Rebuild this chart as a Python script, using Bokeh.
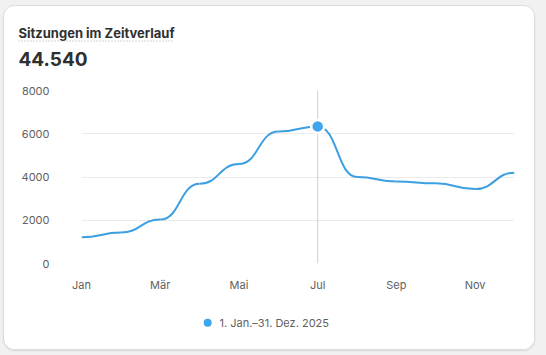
import numpy as np
from bokeh.plotting import figure
from bokeh.layouts import column
from bokeh.models import Range1d, FixedTicker, Span
from bokeh.core.properties import value
from bokeh.embed import file_html
from bokeh.resources import INLINE

# ---- data ----
months = ["Jan", "Feb", "Mär", "Apr", "Mai", "Jun", "Jul", "Aug", "Sep", "Okt", "Nov", "Dez"]
sessions = [1210, 1430, 2030, 3690, 4600, 6100, 6340, 4000, 3790, 3710, 3440, 4200]
tick_months = ["Jan", "Mär", "Mai", "Jul", "Sep", "Nov"]
y_ticks = [0, 2000, 4000, 6000, 8000]
title_text = "Sitzungen im Zeitverlauf"
total_text = "44.540"
legend_text = "1. Jan.–31. Dez. 2025"
highlight_month = "Jul"

BLUE = "#3b9fe2"
DOT = "#3ea6ee"
FONT = "Inter"
W = 530


def panel(height):
    """A plain drawing area whose frame fills the whole canvas (pixel coordinates, y down)."""
    f = figure(frame_width=W, frame_height=height, output_backend="svg", toolbar_location=None,
               x_range=Range1d(0, W), y_range=Range1d(height, 0),
               x_axis_type=None, y_axis_type=None, min_border=0)
    if "frame_align" in f.properties():
        f.frame_align = False
    f.grid.visible = False
    f.outline_line_color = None
    f.border_fill_color = "white"
    f.background_fill_color = "white"
    return f


# ---- header ----
header = panel(74)
header.text(x=[14], y=[26.4], text=[title_text], text_font=value(FONT), text_font_size="13px",
            text_font_style="bold", text_color="#303030", text_baseline="alphabetic", text_align="left")
header.segment(x0=[14], y0=[34.5], x1=[168], y1=[34.5], line_color="#a8a8a8", line_width=1, line_dash="1 2")
header.text(x=[14], y=[52.4], text=[total_text], text_font=value(FONT), text_font_size="19px",
            text_font_style="bold", text_color="#303030", text_baseline="alphabetic", text_align="left")

# ---- chart ----
x = np.arange(len(months), dtype=float)
y = np.array(sessions, dtype=float)

p = figure(width=W, height=223, output_backend="svg", toolbar_location=None,
           x_range=Range1d(0, len(months) - 1), y_range=Range1d(0, 8000),
           min_border_left=77, min_border_right=20, min_border_top=10, min_border_bottom=40)
p.border_fill_color = "white"
p.background_fill_color = "white"
p.outline_line_color = None

# smooth (bump-x) curve drawn as cubic Beziers through the monthly values
dx = np.diff(x)
p.bezier(x0=x[:-1], y0=y[:-1], x1=x[1:], y1=y[1:],
         cx0=x[:-1] + dx / 2, cy0=y[:-1], cx1=x[1:] - dx / 2, cy1=y[1:],
         line_color=BLUE, line_width=2)

hi = months.index(highlight_month)
p.add_layout(Span(location=x[hi], dimension="height", line_color="#cfcfcf", line_width=1, level="underlay"))
p.scatter(x=[x[hi]], y=[y[hi]], size=13, fill_color=DOT, line_color="white", line_width=2.5)

p.xaxis.ticker = FixedTicker(ticks=[months.index(m) for m in tick_months])
p.xaxis.major_label_overrides = {months.index(m): m for m in tick_months}
p.yaxis.ticker = FixedTicker(ticks=y_ticks)
for ax in (p.xaxis[0], p.yaxis[0]):
    ax.axis_line_color = None
    ax.major_tick_line_color = None
    ax.minor_tick_line_color = None
    ax.major_tick_out = 0
    ax.major_tick_in = 0
    ax.major_label_text_font = FONT
    ax.major_label_text_font_size = "11px"
    ax.major_label_text_color = "#616161"
p.yaxis.major_label_standoff = 32
p.xaxis.major_label_standoff = 14
p.xgrid.grid_line_color = None
p.ygrid.grid_line_color = "#ebebeb"
p.ygrid.grid_line_width = 1

# ---- legend row ----
footer = panel(46)
footer.scatter(x=[203.2], y=[19.2], size=8, fill_color=DOT, line_color=None)
footer.text(x=[215], y=[19.2], text=[legend_text], text_font=value(FONT), text_font_size="11px",
            text_color="#616161", text_baseline="middle", text_align="left")

card = column(header, p, footer, spacing=0)
card.styles = {"margin": "5px 0 0 3px", "border": "1px solid #dcdcdc", "border-radius": "12px",
               "overflow": "hidden", "background": "white",
               "box-shadow": "0 1px 2px rgba(0,0,0,0.10), 0 0 0 24px #f1f1f1"}

open("out.html", "w").write(file_html(card, INLINE))
